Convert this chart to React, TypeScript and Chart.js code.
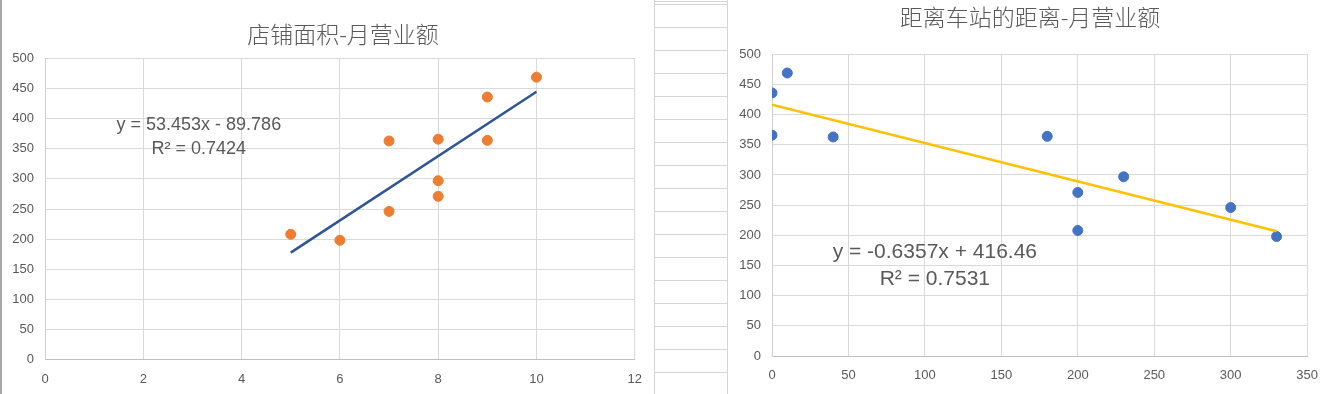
import React, { useEffect, useRef } from "react";
import { Chart, registerables } from "chart.js";

Chart.register(...registerables);

// ---- data ----
const areaX = [10, 8, 8, 5, 7, 8, 7, 9, 6, 9];
const distanceX = [10, 0, 200, 200, 300, 230, 40, 0, 330, 180];
const salesY = [469, 366, 271, 208, 246, 297, 363, 436, 198, 364];

const areaTrendX = [5, 10];
const areaTrendY = [177.48, 444.74];
const distTrendX = [0, 330];
const distTrendY = [416.46, 206.68];

const leftTitle = "店铺面积-月营业额";
const rightTitle = "距离车站的距离-月营业额";
const leftEquation = ["y = 53.453x - 89.786", "R² = 0.7424"];
const rightEquation = ["y = -0.6357x + 416.46", "R² = 0.7531"];

const TICK_FONT = "'Liberation Sans', Arial, sans-serif";
const TEXT_GRAY = "#595959";

const eqLabelPlugin = {
  id: "eqLabel",
  afterDatasetsDraw(chart: any) {
    const o = chart.options.plugins.eqLabel;
    if (!o) return;
    const ctx = chart.ctx;
    const px = chart.scales.x.getPixelForValue(o.x);
    const py = chart.scales.y.getPixelForValue(o.y);
    ctx.save();
    ctx.fillStyle = TEXT_GRAY;
    ctx.font = `${o.size}px ${TICK_FONT}`;
    ctx.textAlign = "center";
    ctx.textBaseline = "middle";
    o.lines.forEach((t: string, i: number) => {
      ctx.fillText(t, px, py + i * o.gap);
    });
    ctx.restore();
  },
};

// shifts the title block horizontally after layout (Excel centres titles slightly differently)
const titleShiftPlugin = {
  id: "titleShift",
  afterLayout(chart: any) {
    const o = chart.options.plugins.titleShift;
    const tb = chart.titleBlock;
    if (!o || !tb) return;
    tb.left += o.dx;
    tb.right += o.dx;
  },
};

function pts(xs: number[], ys: number[]) {
  return xs.map((x, i) => ({ x, y: ys[i] }));
}

function makeConfig(p: any) {
  return {
    type: "scatter",
    data: {
      datasets: [
        {
          type: "line",
          data: pts(p.trendX, p.trendY),
          borderColor: p.trendColor,
          borderWidth: 2.5,
          pointRadius: 0,
          fill: false,
          showLine: true,
          order: 0,
        },
        {
          data: pts(p.xs, salesY),
          backgroundColor: p.pointColor,
          borderColor: p.pointColor,
          borderWidth: 1,
          pointRadius: 5,
          order: 1,
        },
      ],
    },
    options: {
      responsive: false,
      animation: false,
      devicePixelRatio: 1,
      layout: { padding: { left: 0, right: p.padRight, top: 0, bottom: 0 } },
      plugins: {
        legend: { display: false },
        tooltip: { enabled: false },
        title: {
          display: true,
          text: p.title,
          color: TEXT_GRAY,
          fullSize: true,
          font: { family: "'Noto Sans CJK SC', sans-serif", size: 23, weight: "300", lineHeight: 1.2 },
          padding: { top: p.titleTop, bottom: p.titleBottom },
        },
        titleShift: { dx: p.titleDx },
        eqLabel: p.eq,
      },
      scales: {
        x: {
          type: "linear",
          min: 0,
          max: p.xMax,
          ticks: {
            stepSize: p.xStep,
            color: TEXT_GRAY,
            font: { family: TICK_FONT, size: 13 },
            padding: 12,
            maxRotation: 0,
          },
          grid: { color: "#d9d9d9", drawTicks: false },
          border: { color: "#bfbfbf", width: 1 },
          afterFit: (s: any) => {
            s.height = p.xAxisH;
          },
        },
        y: {
          type: "linear",
          min: 0,
          max: 500,
          ticks: {
            stepSize: 50,
            color: TEXT_GRAY,
            font: { family: TICK_FONT, size: 13 },
            padding: 11,
          },
          grid: { color: "#d9d9d9", drawTicks: false },
          border: { color: "#d0d0d0", width: 1 },
          afterFit: (s: any) => {
            s.width = p.yAxisW;
          },
        },
      },
    },
    plugins: [eqLabelPlugin, titleShiftPlugin],
  };
}

function ChartBox(props: { cfg: any; left: number; width: number }) {
  const ref = useRef<HTMLCanvasElement | null>(null);
  useEffect(() => {
    if (!ref.current) return;
    const chart = new Chart(ref.current, props.cfg);
    return () => chart.destroy();
  }, []);
  return (
    <div style={{ position: "absolute", left: props.left, top: 0, width: props.width, height: 394, background: "#fff" }}>
      <canvas ref={ref} width={props.width} height={394} style={{ display: "block" }} />
    </div>
  );
}

const leftCfg = makeConfig({
  xs: areaX,
  trendX: areaTrendX,
  trendY: areaTrendY,
  trendColor: "#2F5597",
  pointColor: "#ED7D31",
  title: leftTitle,
  titleDx: 25,
  titleTop: 20.2,
  titleBottom: 10.7,
  xMax: 12,
  xStep: 2,
  xAxisH: 34.5,
  yAxisW: 45,
  padRight: 18,
  eq: { lines: leftEquation, x: 3.13, y: 389, size: 18, gap: 23.3 },
});

const rightCfg = makeConfig({
  xs: distanceX,
  trendX: distTrendX,
  trendY: distTrendY,
  trendColor: "#FFC000",
  pointColor: "#4472C4",
  title: rightTitle,
  titleDx: 9,
  titleTop: 3.7,
  titleBottom: 23,
  xMax: 350,
  xStep: 50,
  xAxisH: 38,
  yAxisW: 44,
  padRight: 16,
  eq: { lines: rightEquation, x: 106.5, y: 171.5, size: 21, gap: 26.5 },
});

export default function App() {
  useEffect(() => {
    document.body.style.margin = "0";
  }, []);
  return (
    <div style={{ position: "absolute", left: 0, top: 0, width: 1330, height: 394, background: "#fff", overflow: "hidden" }}>
      <ChartBox cfg={leftCfg} left={0} width={654} />
      <div style={{ position: "absolute", left: 0, top: 0, width: 2, height: 394, background: "#a6a6a6" }} />
      <div
        style={{
          position: "absolute",
          left: 654,
          top: 0,
          width: 72,
          height: 394,
          borderLeft: "1px solid #d4d4d4",
          borderRight: "1px solid #d4d4d4",
          backgroundImage: "repeating-linear-gradient(to bottom, #d4d4d4 0px, #d4d4d4 1px, transparent 1px, transparent 23px)",
          backgroundPosition: "0 4px",
        }}
      />
      <ChartBox cfg={rightCfg} left={728} width={602} />
    </div>
  );
}
